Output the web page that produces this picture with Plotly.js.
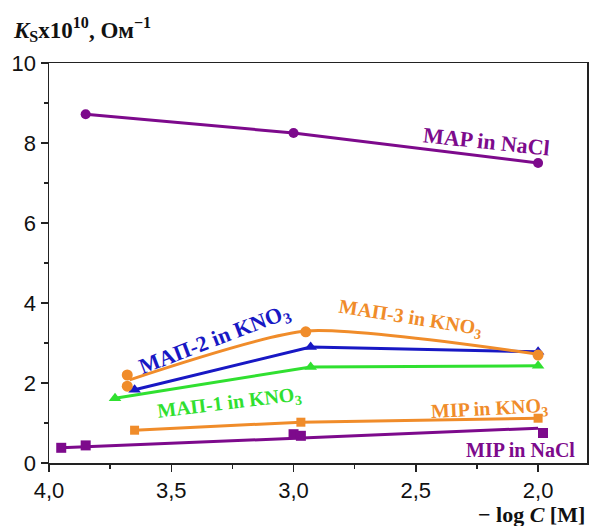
<!DOCTYPE html>
<html>
<head>
<meta charset="utf-8">
<script src="https://cdn.plot.ly/plotly-3.0.1.min.js"></script>
<style>html,body{margin:0;padding:0;background:#fff;}#chart{width:589px;height:526px;}</style>
</head>
<body>
<div id="chart"></div>
<script>
// MAP in NaCl
const mapNaClX = [3.85, 3.0, 2.0];
const mapNaClY = [8.72, 8.25, 7.5];
// MIP in NaCl (points and fitted line)
const mipNaClX = [3.95, 3.85, 3.0, 2.97, 1.98];
const mipNaClY = [0.38, 0.44, 0.72, 0.68, 0.75];
const mipNaClFitX = [3.95, 2.0];
const mipNaClFitY = [0.38, 0.87];
// MIP in KNO3
const mipKX = [3.65, 2.97, 2.0];
const mipKY = [0.82, 1.02, 1.12];
// MAП-1 in KNO3
const map1X = [3.73, 2.93, 2.0];
const map1Y = [1.62, 2.4, 2.43];
// MAП-2 in KNO3
const map2X = [3.65, 2.93, 2.0];
const map2Y = [1.83, 2.9, 2.78];
// MAП-3 in KNO3 (points and fitted curve)
const map3X = [3.68, 3.68, 2.95, 2.0];
const map3Y = [2.2, 1.92, 3.28, 2.7];
const map3FitX = [3.67, 2.95, 2.0];
const map3FitY = [2.08, 3.3, 2.72];

const purple = '#7d0a8c', orange = '#f08c2a', blue = '#1818c4', green = '#30e030';

const traces = [
  {x: mapNaClX, y: mapNaClY, mode: 'lines+markers', line: {color: purple, width: 3}, marker: {symbol: 'circle', size: 10, color: purple}},
  {x: mipNaClFitX, y: mipNaClFitY, mode: 'lines', line: {color: purple, width: 3}},
  {x: mipNaClX, y: mipNaClY, mode: 'markers', marker: {symbol: 'square', size: 10, color: purple}},
  {x: mipKX, y: mipKY, mode: 'lines+markers', line: {color: orange, width: 3}, marker: {symbol: 'square', size: 9, color: orange}},
  {x: map1X, y: map1Y, mode: 'lines+markers', line: {color: green, width: 3}, marker: {symbol: 'triangle-up', size: 11, color: green}},
  {x: map2X, y: map2Y, mode: 'lines+markers', line: {color: blue, width: 3}, marker: {symbol: 'triangle-up', size: 11, color: blue}},
  {x: map3FitX, y: map3FitY, mode: 'lines', line: {color: orange, width: 3, shape: 'spline', smoothing: 0.6}},
  {x: map3X, y: map3Y, mode: 'markers', marker: {symbol: 'circle', size: 11, color: orange}}
];

const serif = 'Liberation Serif, Times New Roman, serif';
function lab(x, y, text, color, angle, size) {
  return {x: x, y: y, xref: 'x', yref: 'y', text: text, showarrow: false, textangle: angle,
    font: {family: serif, size: size, color: color, weight: 'bold'}};
}

const layout = {
  width: 589, height: 526,
  margin: {l: 49, r: 2, t: 63, b: 63},
  paper_bgcolor: '#fff', plot_bgcolor: '#fff',
  showlegend: false,
  separators: ', ',
  font: {family: 'Liberation Sans, Arial, sans-serif', size: 22, color: '#111'},
  xaxis: {
    range: [4.0, 1.8], tickvals: [4.0, 3.5, 3.0, 2.5, 2.0], tickformat: '.1f',
    ticks: 'outside', ticklen: 7, tickwidth: 1.5, tickcolor: '#222',
    minor: {tickvals: [3.75, 3.25, 2.75, 2.25], ticks: 'outside', ticklen: 4, tickwidth: 1.5, tickcolor: '#222'},
    showline: true, linecolor: '#222', linewidth: 1.5, mirror: true,
    showgrid: false, zeroline: false, tickfont: {size: 22}
  },
  yaxis: {
    range: [0, 10], tickvals: [0, 2, 4, 6, 8, 10],
    ticks: 'outside', ticklen: 7, tickwidth: 1.5, tickcolor: '#222',
    minor: {tickvals: [1, 3, 5, 7, 9], ticks: 'outside', ticklen: 4, tickwidth: 1.5, tickcolor: '#222'},
    showline: true, linecolor: '#222', linewidth: 1.5, mirror: true,
    showgrid: false, zeroline: false, tickfont: {size: 22}
  },
  annotations: [
    {xref: 'paper', yref: 'paper', x: -0.07, y: 1.0, yshift: 16, xanchor: 'left', yanchor: 'bottom', showarrow: false,
     text: '<i>K</i><sub>S</sub>x10<sup>10</sup>, Ом<sup>−1</sup>',
     font: {family: serif, size: 23, color: '#111', weight: 'bold'}},
    {xref: 'paper', yref: 'paper', x: 1.0, y: 0, yshift: -37, xanchor: 'right', yanchor: 'top', showarrow: false,
     text: '− log <i>C</i> [M]',
     font: {family: serif, size: 22, color: '#111', weight: 'bold'}},
    lab(2.21, 8.05, 'MAP in NaCl', purple, 6, 22),
    lab(3.32, 3.08, 'MAП-2 in KNO<sub>3</sub>', blue, -21, 22),
    lab(2.52, 3.62, 'MAП-3 in KNO<sub>3</sub>', orange, 9, 20),
    lab(3.26, 1.5, 'MAП-1 in KNO<sub>3</sub>', green, -7, 20),
    lab(2.2, 1.33, 'MIP in KNO<sub>3</sub>', orange, -3, 20),
    lab(2.07, 0.33, 'MIP in NaCl', purple, 0, 20)
  ]
};

Plotly.newPlot('chart', traces, layout, {displayModeBar: false, staticPlot: true});
</script>
</body>
</html>
